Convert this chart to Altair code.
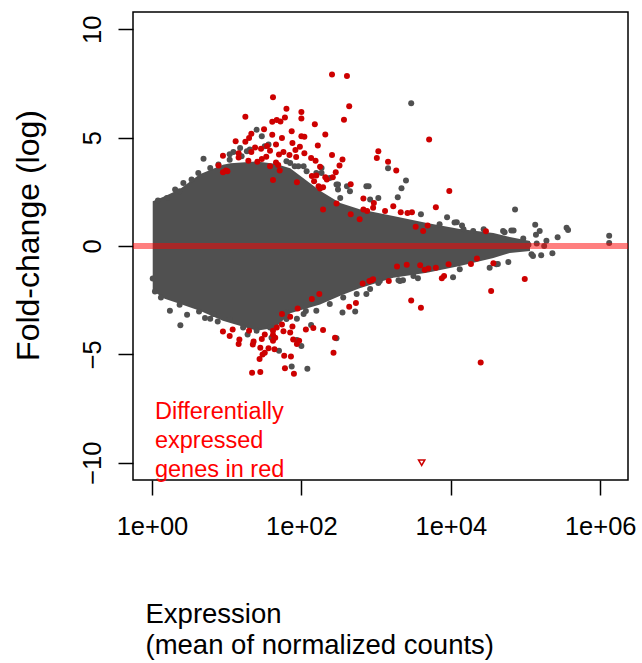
import altair as alt
import pandas as pd

# ---- data -----------------------------------------------------------------
# x values are log10(mean of normalized counts), y values are log fold change

# envelope of the dense grey cloud of genes
cloud_lx = [0.01, 0.17, 0.37, 0.64, 0.95, 1.05, 1.40, 1.65, 1.85, 2.25, 2.52,
            2.78, 3.23, 3.68, 4.12, 4.57, 4.79, 5.06]
cloud_upper = [2.07, 2.30, 2.62, 3.31, 3.75, 3.82, 3.90, 3.80, 3.59, 2.55, 1.98,
               1.70, 1.38, 1.06, 0.78, 0.60, 0.41, 0.23]
cloud_lower = [-2.07, -2.44, -2.67, -2.99, -3.45, -3.55, -3.91, -3.77, -3.10,
               -2.70, -2.30, -1.95, -1.47, -1.24, -0.92, -0.55, -0.32, -0.23]

# grey (not significant) genes outside / on the edge of the cloud
gray_lx = [3.47, 0.31, 0.42, 0.62, 0.69, 0.08, 1.09, 1.18, 1.40, 1.51, 1.85, 1.91,
           2.03, 2.20, 2.27, 2.38, 2.47, 2.49, 2.65, 2.90, 2.52, 2.92, 3.03, 3.16,
           3.40, 3.34, 3.29, 4.86, 3.60, 3.95, 4.08, 4.15, 3.85, 5.13, 5.19, 5.55,
           5.57, 5.14, 4.81, 4.72, 5.43, 5.28, 6.12, 6.12, 5.04, 5.15, 5.25, 5.08,
           5.36, 1.04, 1.27, 1.67,
           1.47, 1.56, 1.20, 1.31, 1.80, 1.96, 2.07, 2.27, 2.49, 2.61, 2.87,
           0.78, 0.89, 1.04, 0.20, 0.37, 0.53,
           4.05, 4.17, 4.30, 4.44, 4.70, 4.84, 4.97,
           0.38, 0.47, 0.12, 0.04, 0.01, 0.37, 0.63, 0.71, 0.88, 1.87, 2.08, 2.00,
           1.94, 1.70, 2.13, 2.06, 2.47, 2.87, 2.72, 2.55, 1.28, 1.60, 1.80, 1.94,
           3.03, 3.30, 3.36, 3.56, 4.03, 4.77, 4.63, 5.21, 0.24, 0.78,
           0.82, 1.04, 1.22, 1.40, 1.58, 1.80, 2.03, 2.20, 2.38, 2.56, 2.74, 2.92,
           3.05, 3.32, 3.50, 4.12, 4.52, 4.61, 5.10]
gray_lfc = [6.59, 2.61, 2.91, 3.37, 4.03, 2.10, 4.34, 4.52, 5.37, 4.60, 3.83, 3.68,
            3.68, 3.37, 3.37, 3.14, 2.84, 2.61, 2.53, 2.76, 2.22, 2.15, 2.22, 3.59,
            3.02, 2.67, 2.25, 1.69, 1.46, 1.33, 1.10, 0.95, 1.00, 0.98, 0.69, 0.84,
            0.74, 0.52, 0.72, 0.64, 0.40, 0.24, 0.47, 0.14, 0.06, 0.11, 0.00, -0.38,
            -0.34, 4.23, 4.37, 3.76,
            5.06, 4.68, 4.14, 4.45, 3.91, 3.68, 3.45, 3.60, 2.84, 2.76, 2.76,
            3.60, 3.76, 3.98, 2.22, 2.53, 3.07,
            1.08, 0.77, 0.69, 0.77, 0.69, 0.72, 0.35,
            -3.66, -3.17, -2.38, -2.10, -1.50, -2.71, -3.02, -3.32, -3.48, -5.56,
            -5.67, -4.61, -4.34, -4.83, -3.65, -3.00, -4.26, -2.21, -3.02, -3.07,
            -4.09, -4.24, -3.07, -3.36, -1.71, -1.58, -1.58, -1.49, -1.44, -0.74,
            -0.83, -0.43, -2.99, -3.36,
            -3.14, -3.37, -3.76, -3.91, -3.76, -3.37, -3.14, -2.99, -2.68, -2.38,
            -2.22, -1.99, -1.61, -1.61, -1.38, -1.07, -1.00, -0.84, -0.46]

# differentially expressed genes (red)
red_lx = [2.41, 2.61, 1.62, 1.80, 2.64, 1.25, 2.00, 2.00, 2.57, 2.18, 1.61, 1.67,
          1.72, 1.78, 1.50, 1.87, 2.32, 1.33, 1.61, 1.74, 2.00, 2.04, 1.12, 1.25,
          1.30, 1.88, 2.22, 1.38, 1.46, 1.54, 1.66, 1.92, 1.98, 1.33, 1.58, 2.04,
          2.41, 1.16, 1.16, 1.70, 1.76, 1.84, 1.93, 1.53, 1.47, 2.13, 2.19, 2.55,
          1.66, 1.69, 1.29, 1.41, 0.95, 2.51, 2.25, 1.58, 1.71, 2.46, 0.99, 0.95,
          2.14, 2.20, 2.32, 2.42, 1.62, 1.94, 2.17, 2.66, 2.29, 0.89, 1.01, 3.01,
          3.03, 2.78, 2.83, 2.47, 2.29, 2.83, 2.88, 2.96, 2.66, 3.16, 3.27, 3.71,
          3.98, 3.80, 3.23, 2.97, 3.48, 3.42, 3.33, 3.12, 3.69, 3.53, 4.47, 3.63,
          2.23, 2.25, 2.34,
          3.47, 3.60, 4.40, 4.54, 4.99, 4.35, 3.28, 3.41, 3.59, 3.65, 3.70, 3.80,
          3.88, 3.91, 3.97, 4.27, 4.57, 3.17, 2.94, 0.95, 1.04, 1.08, 1.16, 1.17,
          1.36, 1.35, 1.30, 1.45, 1.44, 1.48, 1.51, 1.56, 1.51, 1.62, 1.65, 1.62,
          1.62, 1.67, 1.74, 1.76, 1.85, 1.88, 1.85, 1.89, 1.94, 1.97, 1.77, 1.86,
          1.64, 1.78, 1.90, 1.34, 1.45, 2.06, 2.16, 2.29, 2.45, 2.43, 2.14, 2.24,
          1.95, 2.64, 2.73, 2.82, 2.91, 2.96, 1.74, 1.47]
red_lfc = [7.92, 7.85, 6.86, 6.33, 6.45, 5.96, 6.19, 5.89, 5.83, 5.62, 5.73, 5.81,
           5.75, 5.93, 5.39, 5.30, 5.15, 5.18, 5.14, 4.98, 5.07, 5.04, 4.83, 4.81,
           4.98, 4.75, 4.64, 4.55, 4.49, 4.61, 4.68, 4.43, 4.58, 4.34, 4.40, 4.28,
           4.20, 4.28, 4.08, 4.22, 4.34, 4.20, 4.11, 4.12, 4.01, 4.06, 3.94, 3.99,
           3.85, 3.74, 3.94, 3.89, 4.17, 3.72, 3.66, 3.68, 3.49, 3.40, 3.49, 3.40,
           3.23, 3.25, 3.17, 3.17, 3.05, 2.94, 2.99, 2.85, 2.71, 3.72, 3.45, 4.06,
           4.37, 1.23, 2.19, 1.96, 1.69, 1.69, 1.61, 1.76, 1.46, 3.89, 3.49, 4.91,
           2.54, 1.79, 1.83, 1.98, 1.56, 1.52, 1.56, 1.62, 0.95, 0.89, 0.68, 0.69,
           2.76, 2.65, 3.07,
           -2.52, -2.85, -5.38, -2.08, -1.52, -0.58, -0.95, -0.86, -0.89, -1.10,
           -1.04, -1.00, -1.49, -1.39, -0.84, -0.83, -0.80, -1.61, -1.58, -3.95,
           -4.15, -3.85, -4.52, -4.31, -4.41, -4.55, -3.91, -4.70, -5.21, -5.01,
           -4.93, -4.72, -4.09, -4.37, -4.24, -4.11, -3.91, -3.76, -3.62, -3.94,
           -3.99, -3.71, -3.26, -4.32, -4.52, -4.37, -5.06, -5.10, -4.77, -5.64,
           -5.90, -5.85, -5.81, -3.85, -3.78, -3.88, -4.24, -4.93, -2.45, -2.21,
           -2.88, -2.80, -2.63, -1.73, -1.61, -1.53, -3.14, -4.29]

# gene whose fold change lies beyond the plotted range (drawn at the edge)
out_lx = [3.61]
out_lfc = [-10.0]

# reference line at no change
ref_lfc = [0.0]

note_lx = [0.04]
note_lfc = [-7.98]
note_text = ["Differentially\nexpressed\ngenes in red"]

x_ticks = [0, 2, 4, 6]
y_ticks = [-10, -5, 0, 5, 10]

# ---- chart -----------------------------------------------------------------
FONT = "Liberation Sans"

cloud = pd.DataFrame({"lx": cloud_lx, "up": cloud_upper, "lo": cloud_lower})
gray = pd.DataFrame({"lx": gray_lx, "lfc": gray_lfc})
red = pd.DataFrame({"lx": red_lx, "lfc": red_lfc})
out = pd.DataFrame({"lx": out_lx, "lfc": out_lfc})
ref = pd.DataFrame({"lfc": ref_lfc})
note = pd.DataFrame({"lx": note_lx, "lfc": note_lfc, "label": note_text})

xs = alt.Scale(domain=[-0.254, 6.372], nice=False, zero=False)
ys = alt.Scale(domain=[-10.8, 10.8], nice=False, zero=False)

x_axis = alt.Axis(
    values=x_ticks, labelExpr="'1e+0' + datum.value",
    title=["Expression", "(mean of normalized counts)"],
    domain=False, grid=False, tickSize=15, tickWidth=1.5, tickColor="black",
    labelFont=FONT, labelFontSize=25.5, labelColor="black", labelPadding=19,
    labelBaseline="top", labelFlush=False,
    titleFont=FONT, titleFontSize=27.5, titleFontWeight="normal", titleColor="black",
    titleAlign="left", titleAnchor="start", titleX=12, titleY=142,
    titleBaseline="alphabetic", titleLineHeight=31,
)
y_axis = alt.Axis(
    values=y_ticks, title="Fold-change (log)",
    domain=False, grid=False, tickSize=15, tickWidth=1.5, tickColor="black",
    labelFont=FONT, labelFontSize=25.5, labelColor="black", labelPadding=18,
    labelAngle=270, labelAlign="center", labelBaseline="alphabetic", labelFlush=False,
    titleFont=FONT, titleFontSize=32, titleFontWeight="normal", titleColor="black",
    titleAngle=270, titleAlign="center", titleBaseline="alphabetic",
    titleX=-95, titleY=223,
)

X = alt.X("lx:Q", scale=xs, axis=x_axis)

area = alt.Chart(cloud).mark_area(color="#505050", opacity=1).encode(
    x=X, y=alt.Y("up:Q", scale=ys, axis=y_axis), y2="lo:Q"
)
gpts = alt.Chart(gray).mark_circle(color="#505050", size=36, opacity=1).encode(
    x=X, y=alt.Y("lfc:Q", scale=ys, axis=y_axis)
)
rpts = alt.Chart(red).mark_circle(color="#cd0000", size=36, opacity=1).encode(
    x=X, y=alt.Y("lfc:Q", scale=ys, axis=y_axis)
)
zero = alt.Chart(ref).mark_rule(color="#ff0000", strokeOpacity=0.5, strokeWidth=6).encode(
    y=alt.Y("lfc:Q", scale=ys, axis=y_axis)
)
opts = alt.Chart(out).mark_point(
    shape="triangle-down", filled=False, color="#cd0000", size=40, strokeWidth=1.5, opacity=1
).encode(x=X, y=alt.Y("lfc:Q", scale=ys, axis=y_axis))
txt = alt.Chart(note).mark_text(
    align="left", baseline="alphabetic", lineBreak="\n", lineHeight=29,
    font=FONT, fontSize=23.5, color="#ff0000"
).encode(x=X, y=alt.Y("lfc:Q", scale=ys, axis=y_axis), text="label:N")

chart = alt.layer(area, gpts, rpts, zero, opts, txt).properties(
    width=495, height=468,
    padding={"left": 133, "top": 12, "right": 14, "bottom": 183},
    autosize=alt.AutoSizeParams(type="none"),
    background="white",
).configure_view(stroke="black", strokeWidth=1.5)

chart.save("out.html", embed_options={"renderer": "svg", "actions": False})
